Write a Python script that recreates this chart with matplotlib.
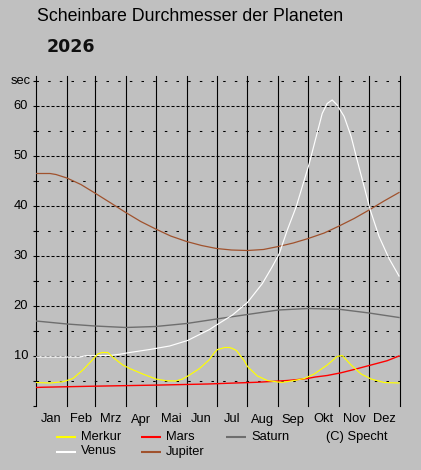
import matplotlib
matplotlib.use("Agg")
import matplotlib.pyplot as plt
from matplotlib.transforms import blended_transform_factory as blend

plt.rcParams['lines.scale_dashes'] = False
plt.rcParams['font.family'] = ['Liberation Sans', 'DejaVu Sans']

# ---------------- data (day of year, arcseconds) ----------------
months = ["Jan", "Feb", "Mrz", "Apr", "Mai", "Jun", "Jul", "Aug", "Sep", "Okt", "Nov", "Dez"]
month_bounds = [0, 31, 59, 90, 120, 151, 181, 212, 243, 273, 304, 334, 365]

y_ticks = [0, 5, 10, 15, 20, 25, 30, 35, 40, 45, 50, 55, 60, 65]
y_labels = ["", "", "10", "", "20", "", "30", "", "40", "", "50", "", "60", "sec"]

merkur_day = [0, 14, 27, 37, 47, 57, 62, 66, 72, 78, 87, 94, 107, 121, 131, 140,
              147, 154, 164, 174, 179, 182, 186, 189, 194, 197, 201, 204, 209, 212,
              222, 232, 246, 259, 269, 279, 292, 302, 307, 316, 326, 336, 349, 364]
merkur_val = [4.7, 4.6, 4.85, 5.5, 7.2, 9.3, 10.4, 10.7, 10.7, 9.6, 8.2, 7.5, 6.4, 5.35, 5.05, 5.0,
              5.4, 6.2, 7.5, 9.3, 10.7, 11.3, 11.5, 11.7, 11.7, 11.5, 11.1, 10.3, 9.0, 7.9,
              6.0, 5.1, 4.7, 5.1, 5.5, 6.4, 8.2, 9.9, 10.1, 8.2, 6.4, 5.4, 4.7, 4.6]

venus_day = [0, 44, 50, 74, 84, 94, 114, 134, 152, 167, 174, 181, 197, 212, 227, 237,
             244, 252, 261, 269, 274, 281, 287, 292, 297, 302, 309, 316, 322, 329,
             335, 344, 354, 364]
venus_val = [9.8, 9.8, 10.05, 10.1, 10.35, 10.7, 11.3, 12.0, 13.1, 14.6, 15.3, 16.2, 18.2, 20.7, 24.5, 27.9,
             30.5, 35.2, 39.9, 45.2, 48.5, 53.9, 58.5, 60.5, 61.2, 60.2, 57.9, 53.9, 49.2, 43.9,
             39.3, 33.9, 29.5, 26.0]

mars_day = [0, 6, 55, 126, 172, 200, 222, 238, 252, 263, 272, 280, 292, 306, 319, 336, 352, 364]
mars_val = [3.7, 3.75, 3.95, 4.2, 4.4, 4.6, 4.75, 4.93, 5.1, 5.3, 5.5, 5.8, 6.1, 6.65, 7.3, 8.2, 9.05, 10.0]

jupiter_day = [0, 14, 20, 31, 45, 59, 75, 90, 105, 120, 135, 151, 166, 181, 196, 212,
               228, 243, 258, 273, 289, 304, 319, 334, 349, 364]
jupiter_val = [46.5, 46.5, 46.3, 45.6, 44.3, 42.6, 40.6, 38.7, 36.9, 35.4, 34.0, 32.9, 32.1, 31.5, 31.2, 31.1,
               31.3, 31.9, 32.6, 33.5, 34.6, 36.0, 37.5, 39.2, 41.0, 42.7]

saturn_day = [0, 31, 59, 90, 120, 151, 181, 212, 243, 273, 304, 334, 364]
saturn_val = [17.0, 16.4, 16.0, 15.7, 15.9, 16.5, 17.4, 18.3, 19.2, 19.5, 19.35, 18.6, 17.7]

# ---------------- figure ----------------
W, H = 421, 470
BG = "#C0C0C0"
fig = plt.figure(figsize=(W / 100, H / 100), dpi=100, facecolor=BG)
ax = fig.add_axes([36 / W, (H - 406) / H, 364 / W, 330 / H])
ax.set_facecolor(BG)
ax.set_xlim(0, 365)
ax.set_ylim(0, 66)
for s in ax.spines.values():
    s.set_visible(False)

# grid
for b in month_bounds:
    ax.axvline(b, color="black", lw=0.8, zorder=1, clip_on=False)
for v in y_ticks[1:]:
    ls = (0, (2.2, 1.4)) if v % 10 == 0 else (0, (1.8, 6.6))
    ax.axhline(v, color="black", lw=0.75, linestyle=ls, zorder=1)

# axes ticks
ax.set_xticks([])
ax.set_yticks(y_ticks)
ax.set_yticklabels([""] * len(y_ticks))
ax.tick_params(axis="y", length=2.3, width=0.8, color="black")

ty = blend(fig.transFigure, ax.transData)
for v, lab in zip(y_ticks, y_labels):
    if lab:
        ax.text(21 / W, v, lab, transform=ty, ha="center", va="center", fontsize=9.3, color="black")

tx = blend(ax.transData, fig.transFigure)
for i, m in enumerate(months):
    c = (month_bounds[i] + month_bounds[i + 1]) / 2
    ax.text(c, 1 - 419.5 / H, m, transform=tx, ha="center", va="center", fontsize=9.3, color="black")

# series
lw = 0.85
l_sat, = ax.plot(saturn_day, saturn_val, color="#6E6E6E", lw=1.0, zorder=3)
l_jup, = ax.plot(jupiter_day, jupiter_val, color="#A0522D", lw=0.9, zorder=3)
l_ven, = ax.plot(venus_day, venus_val, color="white", lw=lw, zorder=4)
l_mar, = ax.plot(mars_day, mars_val, color="#FF0000", lw=1.0, zorder=4)
l_mer, = ax.plot(merkur_day, merkur_val, color="#FFFF00", lw=lw, zorder=5)

# titles
fig.text(37 / W, 1 - 16.5 / H, "Scheinbare Durchmesser der Planeten", ha="left", va="center",
         fontsize=12.8, color="black")
fig.text(46.5 / W, 1 - 46.5 / H, "2026", ha="left", va="center", fontsize=12.5,
         fontweight="bold", family="DejaVu Sans", color="#101010")

# legend (manual layout)
lax = fig.add_axes([0, 0, 1, 1])
lax.set_xlim(0, W)
lax.set_ylim(H, 0)
lax.axis("off")
lax.patch.set_visible(False)
entries = [(l_mer, "Merkur", 56, 437), (l_mar, "Mars", 141, 437), (l_sat, "Saturn", 226, 437),
           (l_ven, "Venus", 56, 451.5), (l_jup, "Jupiter", 141, 451.5)]
for line, name, x0, y0 in entries:
    lax.plot([x0, x0 + 20], [y0, y0], color=line.get_color(), lw=1.5, solid_capstyle="butt")
    lax.text(x0 + 25, y0, name, ha="left", va="center", fontsize=9.3, color="black")
lax.text(326.5, 437, "(C) Specht", ha="left", va="center", fontsize=9.3, color="black")

fig.savefig("out.png", dpi=100, facecolor=BG)
